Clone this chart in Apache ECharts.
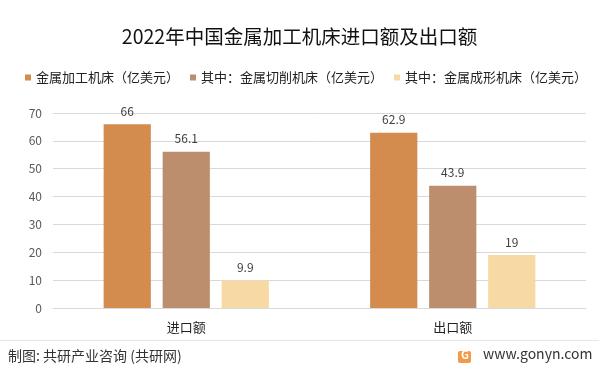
<!DOCTYPE html>
<html><head><meta charset="utf-8">
<script src="https://cdn.jsdelivr.net/npm/echarts@6/dist/echarts.min.js"></script>
<style>html,body{margin:0;padding:0;background:#fff}#c{width:599px;height:373px}</style>
</head><body><div id="c"></div>
<script>
const categories = ['进口额', '出口额'];
const seriesNames = ['金属加工机床（亿美元）', '其中：金属切削机床（亿美元）', '其中：金属成形机床（亿美元）'];
const totalValues = [66, 62.9];
const cuttingValues = [56.1, 43.9];
const formingValues = [9.9, 19];
const colors = ['#D38B4E', '#BC8E6D', '#F7D9A4'];
const FONT = '"Noto Sans CJK SC", "Noto Sans", sans-serif';

const chart = echarts.init(document.getElementById('c'), null, {renderer: 'canvas'});
const data = [totalValues, cuttingValues, formingValues];
chart.setOption({
  animation: false,
  title: {
    text: '2022年中国金属加工机床进口额及出口额',
    left: 'center', top: 22,
    textStyle: {fontFamily: FONT, fontSize: 19.5, fontWeight: 'normal', color: '#111'}
  },
  legend: {
    top: 66, left: 20, itemWidth: 6, itemHeight: 6, itemGap: 11,
    icon: 'rect',
    textStyle: {fontFamily: FONT, fontSize: 13, color: '#222'},
    data: seriesNames
  },
  grid: {left: 53, right: 13, top: 113, bottom: 65},
  xAxis: {
    type: 'category', data: categories,
    axisLine: {lineStyle: {color: '#d9d9d9'}},
    axisTick: {show: false},
    axisLabel: {fontFamily: FONT, fontSize: 13, color: '#222', margin: 13}
  },
  yAxis: {
    type: 'value', min: 0, max: 70, interval: 10,
    axisLine: {show: false}, axisTick: {show: false},
    splitLine: {lineStyle: {color: '#d9d9d9'}},
    axisLabel: {fontFamily: FONT, fontSize: 12, color: '#595959', margin: 11}
  },
  series: seriesNames.map((n, i) => ({
    name: n, type: 'bar', data: data[i],
    barGap: '25%', barCategoryGap: '38%',
    itemStyle: {color: colors[i]},
    label: {show: true, position: 'top', distance: 7, fontFamily: FONT, fontSize: 12, color: '#404040'}
  })),
  graphic: [
    {type: 'line', shape: {x1: 0, y1: 340.5, x2: 599, y2: 340.5}, style: {stroke: '#e6e6e6', lineWidth: 1}},
    {type: 'text', left: 8, top: 349, style: {text: '制图: 共研产业咨询 (共研网)', font: '14px ' + FONT, fill: '#333'}},
    {type: 'rect', shape: {x: 458, y: 351, width: 13, height: 12, r: 2}, style: {fill: '#F29A4A'}},
    {type: 'text', left: 461, top: 349, style: {text: 'G', font: 'bold 11px ' + FONT, fill: '#fff'}},
    {type: 'text', left: 483, top: 347, style: {text: 'www.gonyn.com', font: '14px ' + FONT, fill: '#333'}}
  ]
});
</script></body></html>
